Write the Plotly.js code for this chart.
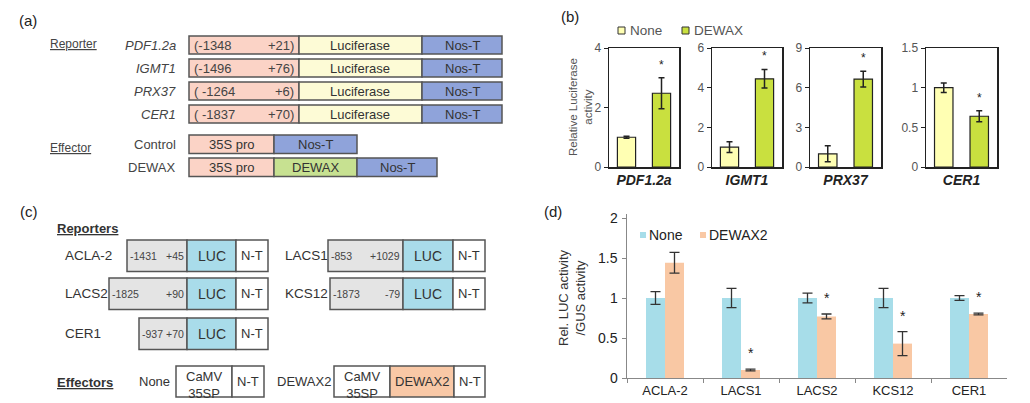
<!DOCTYPE html>
<html><head><meta charset="utf-8">
<script src="https://cdn.plot.ly/plotly-3.0.1.min.js"></script>
<style>html,body{margin:0;padding:0;background:#fff}#chart{width:1030px;height:403px}</style>
</head><body><div id="chart"></div>
<script>
// ---------- Panel (b) data ----------
const bGenes = ['PDF1.2a', 'IGMT1', 'PRX37', 'CER1'];
const bNone = [1.0, 1.0, 1.0, 1.0];
const bNoneErr = [0.03, 0.27, 0.6, 0.06];
const bDewax = [2.48, 4.45, 6.65, 0.64];
const bDewaxErr = [0.52, 0.47, 0.6, 0.07];
const bYMax = [4, 6, 9, 1.5];
const bYTicks = [[0, 2, 4], [0, 2, 4, 6], [0, 3, 6, 9], [0, 0.5, 1, 1.5]];
const bSig = [true, true, true, true];
const bSeries = ['None', 'DEWAX'];

// ---------- Panel (d) data ----------
const dGenes = ['ACLA-2', 'LACS1', 'LACS2', 'KCS12', 'CER1'];
const dNone = [1.0, 1.0, 1.0, 1.0, 1.0];
const dNoneErr = [0.08, 0.12, 0.06, 0.12, 0.03];
const dDewax2 = [1.44, 0.10, 0.77, 0.43, 0.80];
const dDewax2Err = [0.13, 0.01, 0.03, 0.15, 0.01];
const dSig = [false, true, true, true, true];
const dYTicks = [0, 0.5, 1, 1.5, 2];
const dYTickText = ['0', '0.5', '1', '1.5', '2'];
const dSeries = ['None', 'DEWAX2'];

// ---------- Panel (a) construct texts ----------
const aReporters = ['PDF1.2a', 'IGMT1', 'PRX37', 'CER1'];
const aPromStart = ['(-1348', '(-1496', '( -1264', '( -1837'];
const aPromEnd = ['+21)', '+76)', '+6)', '+70)'];
const aEffectors = ['Control', 'DEWAX'];
const aEffSegments = [['35S pro', 'Nos-T'], ['35S pro', 'DEWAX', 'Nos-T']];

// ---------- Panel (c) construct texts ----------
const cReporters = ['ACLA-2', 'LACS1', 'LACS2', 'KCS12', 'CER1'];
const cPromStart = ['-1431', '-853', '-1825', '-1873', '-937'];
const cPromEnd = ['+45', '+1029', '+90', '-79', '+70'];
const cEffectors = ['None', 'DEWAX2'];
const cEffSegments = [['CaMV<br>35SP', 'N-T'], ['CaMV<br>35SP', 'DEWAX2', 'N-T']];

const W = 1030, H = 403;
const FONT = 'Liberation Sans, Arial, sans-serif';
const shapes = [], annotations = [], traces = [];

function rect(x0, x1, y0, y1, fill, lc, lw) {
  shapes.push({type: 'rect', xref: 'x', yref: 'y', x0: x0, x1: x1, y0: y0, y1: y1,
    fillcolor: fill, line: {color: lc || '#555', width: lw === undefined ? 1.5 : lw}, layer: 'above'});
}
function txt(x, y, t, o) {
  o = o || {};
  annotations.push({xref: 'x', yref: 'y', x: x, y: y, text: t, showarrow: false,
    xanchor: o.xa || 'center', yanchor: 'middle', textangle: o.angle || 0,
    font: {family: FONT, size: o.size || 13, color: o.color || '#333'}});
}

// canvas trace (empty) so the x/y canvas subplot exists
traces.push({type: 'scatter', x: [], y: [], xaxis: 'x', yaxis: 'y', showlegend: false, hoverinfo: 'skip'});

// ---------- Panel labels ----------
txt(28, 20, '(a)', {size: 15, color: '#222'});
txt(570, 16, '(b)', {size: 15, color: '#222'});
txt(29, 211, '(c)', {size: 15, color: '#222'});
txt(553, 211, '(d)', {size: 15, color: '#222'});

// ---------- Panel (a) ----------
const aCol = {prom: '#fbd3c6', luc: '#fdfbd6', nos: '#8fa3da', dewax: '#c7e191'};
txt(48, 44, '<u>Reporter</u>', {xa: 'left', size: 12, color: '#444'});
aReporters.forEach((g, i) => {
  const y0 = 36 + i * 23, y1 = y0 + 18, ym = (y0 + y1) / 2;
  txt(178, ym, '<i>' + g + '</i>', {xa: 'right', size: 13, color: '#444'});
  rect(189, 299, y0, y1, aCol.prom);
  rect(299, 422, y0, y1, aCol.luc);
  rect(422, 502, y0, y1, aCol.nos);
  txt(192, ym, aPromStart[i], {xa: 'left', size: 13, color: '#444'});
  txt(296, ym, aPromEnd[i], {xa: 'right', size: 13, color: '#444'});
  txt(360, ym, 'Luciferase', {size: 13, color: '#333'});
  txt(462, ym, 'Nos-T', {size: 13, color: '#333'});
});
txt(48, 148, '<u>Effector</u>', {xa: 'left', size: 12, color: '#444'});
const aSegX = [[189, 274, 357], [189, 274, 357, 437]];
const aSegCol = [[aCol.prom, aCol.nos], [aCol.prom, aCol.dewax, aCol.nos]];
aEffectors.forEach((e, i) => {
  const y0 = i === 0 ? 135 : 158, y1 = y0 + 18.5, ym = (y0 + y1) / 2;
  txt(178, ym, e, {xa: 'right', size: 13, color: '#444'});
  aEffSegments[i].forEach((s, j) => {
    rect(aSegX[i][j], aSegX[i][j + 1], y0, y1, aSegCol[i][j]);
    txt((aSegX[i][j] + aSegX[i][j + 1]) / 2, ym, s, {size: 13, color: '#333'});
  });
});

// ---------- Panel (c) ----------
const cCol = {prom: '#e4e4e4', luc: '#a9dcea', nt: '#ffffff', dewax: '#f9c8a6'};
txt(55, 228, '<b><u>Reporters</u></b>', {xa: 'left', size: 13, color: '#333'});
// layout of each reporter: [labelX, promX0, lucX0, lucX1, ntX1, rowTop]
const cLayout = [
  [63, 127, 187, 236, 268, 240],
  [283, 328, 403, 453, 485, 240],
  [63, 109, 187, 236, 268, 278],
  [283, 330, 403, 453, 485, 278],
  [63, 139, 187, 236, 268, 318]
];
cReporters.forEach((g, i) => {
  const L = cLayout[i], y0 = L[5], y1 = y0 + 31.5, ym = (y0 + y1) / 2;
  txt(L[0], ym, g, {xa: 'left', size: 13.5, color: '#333'});
  rect(L[1], L[2], y0, y1, cCol.prom);
  rect(L[2], L[3], y0, y1, cCol.luc);
  rect(L[3], L[4], y0, y1, cCol.nt);
  txt(L[1] + 1, ym, cPromStart[i], {xa: 'left', size: 10.5, color: '#444'});
  txt(L[2] - 1, ym, cPromEnd[i], {xa: 'right', size: 10.5, color: '#444'});
  txt((L[2] + L[3]) / 2, ym, 'LUC', {size: 14, color: '#333'});
  txt((L[3] + L[4]) / 2, ym, 'N-T', {size: 13, color: '#333'});
});
txt(55, 382, '<b><u>Effectors</u></b>', {xa: 'left', size: 13, color: '#333'});
const cEffLabelX = [172, 333];
const cSegX = [[176, 232, 264], [334, 390, 454, 485]];
const cSegCol = [[cCol.nt, cCol.nt], [cCol.nt, cCol.dewax, cCol.nt]];
cEffectors.forEach((e, i) => {
  const y0 = 366, y1 = 397, ym = (y0 + y1) / 2;
  txt(cEffLabelX[i], ym, e, {xa: 'right', size: 13, color: '#333'});
  cEffSegments[i].forEach((s, j) => {
    rect(cSegX[i][j], cSegX[i][j + 1], y0, y1, cSegCol[i][j]);
    txt((cSegX[i][j] + cSegX[i][j + 1]) / 2, ym + (s.indexOf('<br>') >= 0 ? 3 : 0), s, {size: 13, color: '#333'});
  });
});

// ---------- Panel (b) charts ----------
const bDomX = [[609, 679], [712, 782], [810, 881], [926, 997]];
const bDomY = [1 - 167 / H, 1 - 48 / H];
const layout = {
  width: W, height: H, margin: {l: 0, r: 0, t: 0, b: 0},
  paper_bgcolor: '#fff', plot_bgcolor: 'rgba(0,0,0,0)',
  font: {family: FONT, color: '#333'},
  showlegend: false,
  xaxis: {domain: [0, 1], range: [0, W], visible: false, fixedrange: true},
  yaxis: {domain: [0, 1], range: [H, 0], visible: false, fixedrange: true},
  barmode: 'group', bargap: 0.5, bargroupgap: 0,
  shapes: shapes, annotations: annotations
};
const bColors = ['#ffffb3', '#c9e03f'];
bGenes.forEach((g, i) => {
  const n = i + 2, xa = 'x' + n, ya = 'y' + n;
  layout['xaxis' + n] = {domain: [bDomX[i][0] / W, bDomX[i][1] / W], anchor: ya, range: [-0.5, 1.5],
    showline: true, mirror: true, linecolor: '#222', linewidth: 1.5, showgrid: false, zeroline: false,
    ticks: '', tickvals: [0.5], ticktext: ['<b><i>' + g + '</i></b>'],
    tickfont: {size: 14, color: '#222', family: FONT}, fixedrange: true};
  layout['yaxis' + n] = {domain: bDomY, anchor: xa, range: [0, bYMax[i] * 1.0005],
    showline: true, mirror: true, linecolor: '#222', linewidth: 1.5, showgrid: false, zeroline: false,
    ticks: 'outside', ticklen: 4, tickcolor: '#222', tickvals: bYTicks[i],
    tickfont: {size: 12, color: '#555', family: FONT}, fixedrange: true};
  const vals = [bNone[i], bDewax[i]], errs = [bNoneErr[i], bDewaxErr[i]];
  bSeries.forEach((s, k) => {
    traces.push({type: 'bar', name: s, x: [k], y: [vals[k]], xaxis: xa, yaxis: ya,
      width: 0.52, offset: -0.26,
      marker: {color: bColors[k], line: {color: '#222', width: 1.2}},
      error_y: {type: 'data', array: [errs[k]], visible: true, color: '#222', thickness: 1.5, width: 3},
      hoverinfo: 'skip'});
  });
  if (bSig[i]) {
    annotations.push({xref: xa, yref: ya, x: 1, y: bDewax[i] + bDewaxErr[i], yshift: 4,
      text: '*', showarrow: false, yanchor: 'bottom', font: {size: 12, color: '#222', family: FONT}});
  }
});
// legend (b)
const bLegX = [618, 682];
bSeries.forEach((s, k) => {
  rect(bLegX[k], bLegX[k] + 7, 27, 34, bColors[k], '#333', 1);
  txt(bLegX[k] + 10, 30.5, s, {xa: 'left', size: 13.5, color: '#555'});
});
txt(580, 107, 'Relative Luciferase<br>activity', {angle: -90, size: 11.5, color: '#555'});

// ---------- Panel (d) chart ----------
const dDomX = [627 / W, 1007 / W];
layout.xaxis6 = {domain: dDomX, anchor: 'y6', type: 'category',
  showline: true, linecolor: '#888', linewidth: 1.2, showgrid: false, zeroline: false,
  ticks: 'outside', tickson: 'boundaries', ticklen: 4, tickcolor: '#888',
  tickfont: {size: 13, color: '#222', family: FONT}, fixedrange: true};
layout.yaxis6 = {domain: [1 - 378 / H, 1 - 214 / H], anchor: 'x6', range: [0, 2.05],
  showline: true, linecolor: '#888', linewidth: 1.2, showgrid: false, zeroline: false,
  ticks: 'outside', ticklen: 4, tickcolor: '#888', tickmode: 'array', tickvals: dYTicks,
  showticklabels: false, fixedrange: true};
// y tick labels of (d), placed on the y6 scale
dYTicks.forEach((v, i) => {
  annotations.push({xref: 'paper', yref: 'y6', x: dDomX[0], y: v, xshift: -7, text: dYTickText[i],
    showarrow: false, xanchor: 'right', yanchor: 'middle',
    font: {size: 14, color: '#222', family: FONT}});
});
const dColors = ['#a7dde9', '#f9c8a4'];
[[dNone, dNoneErr], [dDewax2, dDewax2Err]].forEach((pair, k) => {
  traces.push({type: 'bar', name: dSeries[k], x: dGenes, y: pair[0], xaxis: 'x6', yaxis: 'y6',
    marker: {color: dColors[k]},
    error_y: {type: 'data', array: pair[1], visible: true, color: '#333', thickness: 1.3, width: 5},
    hoverinfo: 'skip'});
});
dGenes.forEach((g, i) => {
  if (dSig[i]) {
    annotations.push({xref: 'x6', yref: 'y6', x: g, y: dDewax2[i] + dDewax2Err[i], xshift: 10, yshift: 6,
      text: '*', showarrow: false, yanchor: 'bottom', font: {size: 14, color: '#222', family: FONT}});
  }
});
// legend (d)
const dLegX = [640, 700];
dSeries.forEach((s, k) => {
  rect(dLegX[k], dLegX[k] + 6, 232, 238, dColors[k], dColors[k], 0);
  txt(dLegX[k] + 7, 235, s, {xa: 'left', size: 14, color: '#222'});
});
txt(572, 298, 'Rel. LUC activity<br>/GUS activity', {angle: -90, size: 13, color: '#333'});

Plotly.newPlot('chart', traces, layout, {staticPlot: true, displayModeBar: false});
</script>
</body></html>
